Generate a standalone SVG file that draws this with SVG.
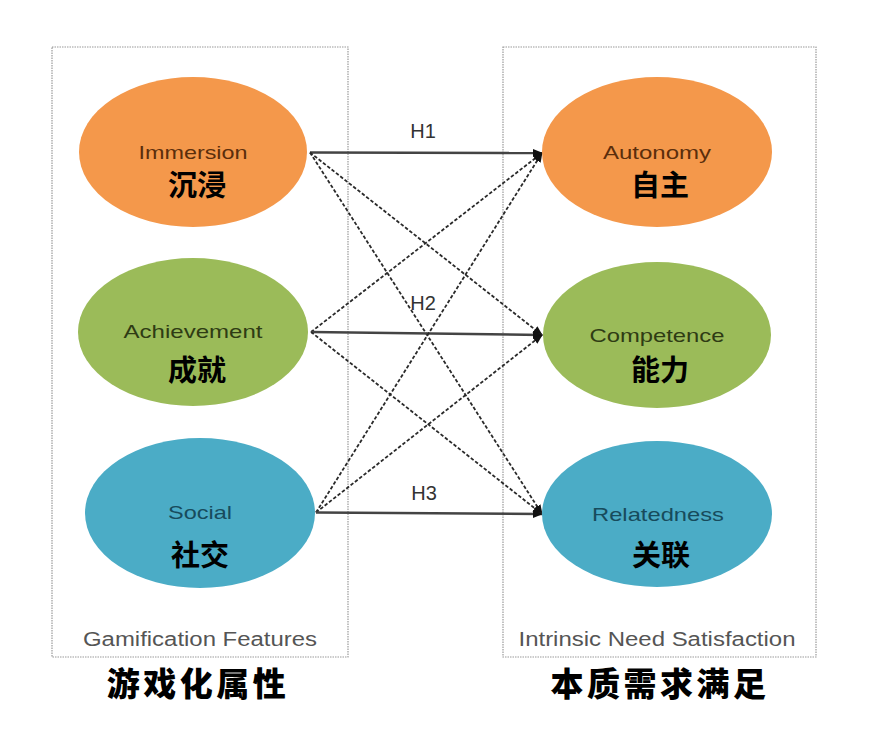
<svg xmlns="http://www.w3.org/2000/svg" width="877" height="737" viewBox="0 0 877 737">
<style>
.box{fill:none;stroke:#9a9a9a;stroke-width:1.2;stroke-dasharray:1.5 1}
.en{font-family:"Liberation Sans",Arial,sans-serif;font-size:19px;text-anchor:middle}
.zh{font-family:"Noto Sans CJK SC","Noto Sans",sans-serif;font-size:29px;font-weight:bold;text-anchor:middle;fill:#000}
.cap{font-family:"Liberation Sans",Arial,sans-serif;font-size:20px;fill:#555;text-anchor:middle}
.big{font-family:"Noto Sans CJK SC","Noto Sans",sans-serif;font-size:33px;font-weight:900;fill:#000;text-anchor:middle}
.h{font-family:"Liberation Sans",Arial,sans-serif;font-size:20px;fill:#333;text-anchor:middle}
.solid{stroke:#444;stroke-width:2.5;fill:none;marker-end:url(#ah)}
.dash{stroke:#2a2a2a;stroke-width:1.8;stroke-dasharray:3.5 2;fill:none;marker-end:url(#ah)}
.or{fill:#F4984B}.gr{fill:#9BBB59}.bl{fill:#4BACC6}
.or-t{fill:#5b2e0c}.gr-t{fill:#2f3b14}.bl-t{fill:#174b5c}
</style>
<defs>
<marker id="ah" viewBox="0 0 10 10" refX="9" refY="5" markerWidth="10" markerHeight="10" markerUnits="userSpaceOnUse" orient="auto">
<path d="M0,1 L10,5 L0,9 Z" fill="#111"/>
</marker>
</defs>
<rect width="877" height="737" fill="#fff"/>
<g id="group-left">
<rect class="box" x="52" y="47" width="296" height="610"/>
<text class="cap" x="200" y="646" textLength="234" lengthAdjust="spacingAndGlyphs">Gamification Features</text>
<text class="big" x="198" y="696" letter-spacing="3.5">游戏化属性</text>
</g>
<g id="group-right">
<rect class="box" x="503" y="47" width="313" height="610"/>
<text class="cap" x="657" y="646" textLength="277" lengthAdjust="spacingAndGlyphs">Intrinsic Need Satisfaction</text>
<text class="big" x="660" y="696" letter-spacing="3.5">本质需求满足</text>
</g>
<g id="connectors">
<line class="solid" x1="310" y1="152.5" x2="542" y2="153"/>
<line class="dash" x1="310" y1="152.5" x2="542" y2="335"/>
<line class="dash" x1="310" y1="152.5" x2="542" y2="514"/>
<line class="dash" x1="311" y1="332" x2="542" y2="153"/>
<line class="solid" x1="311" y1="332" x2="542" y2="335"/>
<line class="dash" x1="311" y1="332" x2="542" y2="514"/>
<line class="dash" x1="316" y1="512.5" x2="542" y2="153"/>
<line class="dash" x1="316" y1="512.5" x2="542" y2="335"/>
<line class="solid" x1="316" y1="512.5" x2="542" y2="514"/>
<text class="h" x="423" y="138">H1</text>
<text class="h" x="423" y="310">H2</text>
<text class="h" x="424" y="500">H3</text>
</g>
<g id="immersion">
<ellipse class="or" cx="193" cy="152" rx="114" ry="75"/>
<text class="en or-t" x="193" y="159" textLength="109" lengthAdjust="spacingAndGlyphs">Immersion</text>
<text class="zh" x="197" y="196">沉浸</text>
</g>
<g id="achievement">
<ellipse class="gr" cx="193" cy="332" rx="115" ry="74"/>
<text class="en gr-t" x="193" y="338" textLength="139" lengthAdjust="spacingAndGlyphs">Achievement</text>
<text class="zh" x="197" y="381">成就</text>
</g>
<g id="social">
<ellipse class="bl" cx="200" cy="513" rx="115" ry="75"/>
<text class="en bl-t" x="200" y="519" textLength="64" lengthAdjust="spacingAndGlyphs">Social</text>
<text class="zh" x="200" y="566">社交</text>
</g>
<g id="autonomy">
<ellipse class="or" cx="657" cy="152" rx="115" ry="75"/>
<text class="en or-t" x="657" y="159" textLength="108" lengthAdjust="spacingAndGlyphs">Autonomy</text>
<text class="zh" x="660" y="196">自主</text>
</g>
<g id="competence">
<ellipse class="gr" cx="657" cy="335" rx="114" ry="73"/>
<text class="en gr-t" x="657" y="342" textLength="135" lengthAdjust="spacingAndGlyphs">Competence</text>
<text class="zh" x="660" y="381">能力</text>
</g>
<g id="relatedness">
<ellipse class="bl" cx="657" cy="514" rx="115" ry="73"/>
<text class="en bl-t" x="658" y="521" textLength="132" lengthAdjust="spacingAndGlyphs">Relatedness</text>
<text class="zh" x="661" y="566">关联</text>
</g>
</svg>
